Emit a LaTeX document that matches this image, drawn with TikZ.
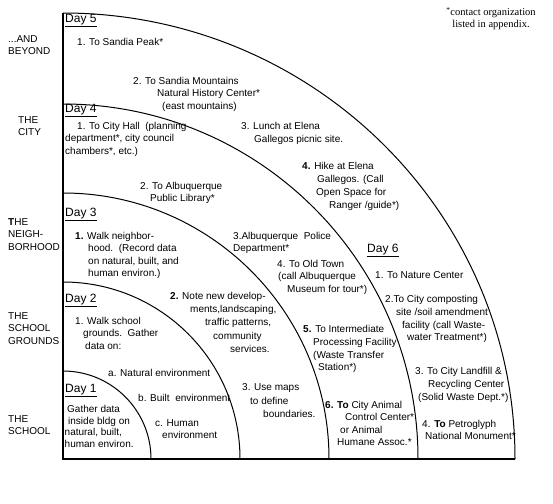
\documentclass[tikz,border=0pt]{standalone}
\usepackage{fontspec}
\setmainfont{Liberation Sans}
\newfontfamily\notefont{Liberation Serif}
\begin{document}
\begin{tikzpicture}[x=1pt,y=-1pt,
 txt/.style={anchor=north west,inner sep=0pt,align=left,font=\fontsize{10}{12.5}\selectfont,execute at begin node=\strut},
 day/.style={txt,font=\fontsize{12}{14}\selectfont},
 ring/.style={line width=1pt},
 axis/.style={line width=1.4pt}]
\useasboundingbox (0,0) rectangle (553,503);
\coordinate (o) at (63,459);
\coordinate (top) at (63,13);
\coordinate (end) at (515,459);
% one ring per day
\foreach \r in {88,177,266,355}
  \draw[ring] (o) ++(0,-\r) arc[start angle=-90,end angle=0,radius=\r];
\draw[ring] (top) arc[start angle=-90,end angle=0,x radius=452,y radius=446];
\draw[axis] (top) -- (o) -- (end);
% zones
\node[txt] (beyond) at (8,35) {...AND\\BEYOND};
\node[txt] (city) at (18,116) {THE\\CITY};
\node[txt] (nbhd) at (8,218) {\textbf{T}HE\\NEIGH-\\BORHOOD};
\node[txt] (grounds) at (8,312) {THE\\SCHOOL\\GROUNDS};
\node[txt] (school) at (8,415) {THE\\SCHOOL};
% days
\node[day] (d5) at (65,12.5) {\underline{Day 5}};
\node[day] (d4) at (65,102.5) {\underline{Day 4}};
\node[day] (d3) at (65,206.5) {\underline{Day 3}};
\node[day] (d2) at (65,292.5) {\underline{Day 2}};
\node[day] (d1) at (65,382.5) {\underline{Day 1}};
\node[day] (d6) at (367,242.5) {\underline{Day 6}};
% day 5 ring
\node[txt] (peak) at (77,37) {1. To Sandia Peak*};
\node[txt] (sandia) at (133,77) {2. To Sandia Mountains\\\hspace{24pt}Natural History Center*\\\hspace{29pt}(east mountains)};
\node[txt] (lunch) at (241,122) {3. Lunch at Elena\\[1pt]\hspace{13pt}Gallegos picnic site.};
\node[txt] (hike) at (302,162) {\textbf{4.} Hike at Elena\\[1pt]\hspace{15pt}Gallegos. (Call\\\hspace{14pt}Open Space for\\[1pt]\hspace{27pt}Ranger /guide*)};
\node[txt] (nature) at (375,270) {1. To Nature Center};
\node[txt] (compost) at (385,295) {2.To City composting\\[1pt]\hspace{11pt}site /soil amendment\\\hspace{17pt}facility (call Waste-\\\hspace{22pt}water Treatment*)};
\node[txt] (landfill) at (415,367) {3. To City Landfill \&\\[1pt]\hspace{13pt}Recycling Center\\\hspace{3pt}(Solid Waste Dept.*)};
\node[txt] (petro) at (422,420) {4. \textbf{To} Petroglyph\\\hspace{3pt}National Monument*};
% day 4 ring
\node[txt] (cityhall) at (65,122) {\hspace{12pt}1. To City Hall~~(planning\\department*, city council\\chambers*, etc.)};
\node[txt] (library) at (140,182) {2. To Albuquerque\\\hspace{10pt}Public Library*};
\node[txt] (police) at (233,232) {3.Albuquerque~~Police\\Department*};
\node[txt] (oldtown) at (277,260) {4. To Old Town\\\hspace{1pt}(call Albuquerque\\\hspace{10pt}Museum for tour*)};
\node[txt] (transfer) at (303,325) {\textbf{5.} To Intermediate\\[1pt]\hspace{10pt}Processing Facility\\\hspace{10pt}(Waste Transfer\\\hspace{15pt}Station*)};
\node[txt] (animal) at (325,401) {\textbf{6. To} City Animal\\\hspace{20pt}Control Center*\\\hspace{15pt}or Animal\\\hspace{12pt}Humane Assoc.*};
% day 3 ring
\node[txt] (walknb) at (75,232) {\textbf{1.} Walk neighbor-\\\hspace{13pt}hood.~~(Record data\\\hspace{13pt}on natural, built, and\\\hspace{13pt}human environ.)};
\node[txt] (develop) at (170,292) {\textbf{2.} Note new develop-\\[0.5pt]\hspace{20pt}ments,landscaping,\\[0.5pt]\hspace{35pt}traffic patterns,\\[1.5pt]\hspace{43pt}community\\[1pt]\hspace{60pt}services.};
\node[txt] (maps) at (242,383) {3. Use maps\\[1.5pt]\hspace{8pt}to define\\[1pt]\hspace{21pt}boundaries.};
% day 2 ring
\node[txt] (walksch) at (75,317) {1. Walk school\\\hspace{8pt}grounds.~~Gather\\\hspace{10pt}data on:};
\node[txt] (natural) at (108,368) {a. Natural environment};
\node[txt] (built) at (138,393) {b. Built~~environment};
\node[txt] (human) at (155,419) {c. Human\\\hspace{7pt}environment};
% day 1 ring
\node[txt] (gather) at (64.5,405) {\hspace{2.5pt}Gather data\\[-0.8pt]\hspace{3.5pt}inside bldg on\\[-0.8pt]natural, built,\\[-0.8pt]human environ.};
% footnote
\node[anchor=north,inner sep=0pt,align=center,font=\notefont\fontsize{10.5}{12}\selectfont,execute at begin node=\strut] (note) at (491,7) {\textsuperscript{*}contact organization\\listed in appendix.};
\end{tikzpicture}
\end{document}
